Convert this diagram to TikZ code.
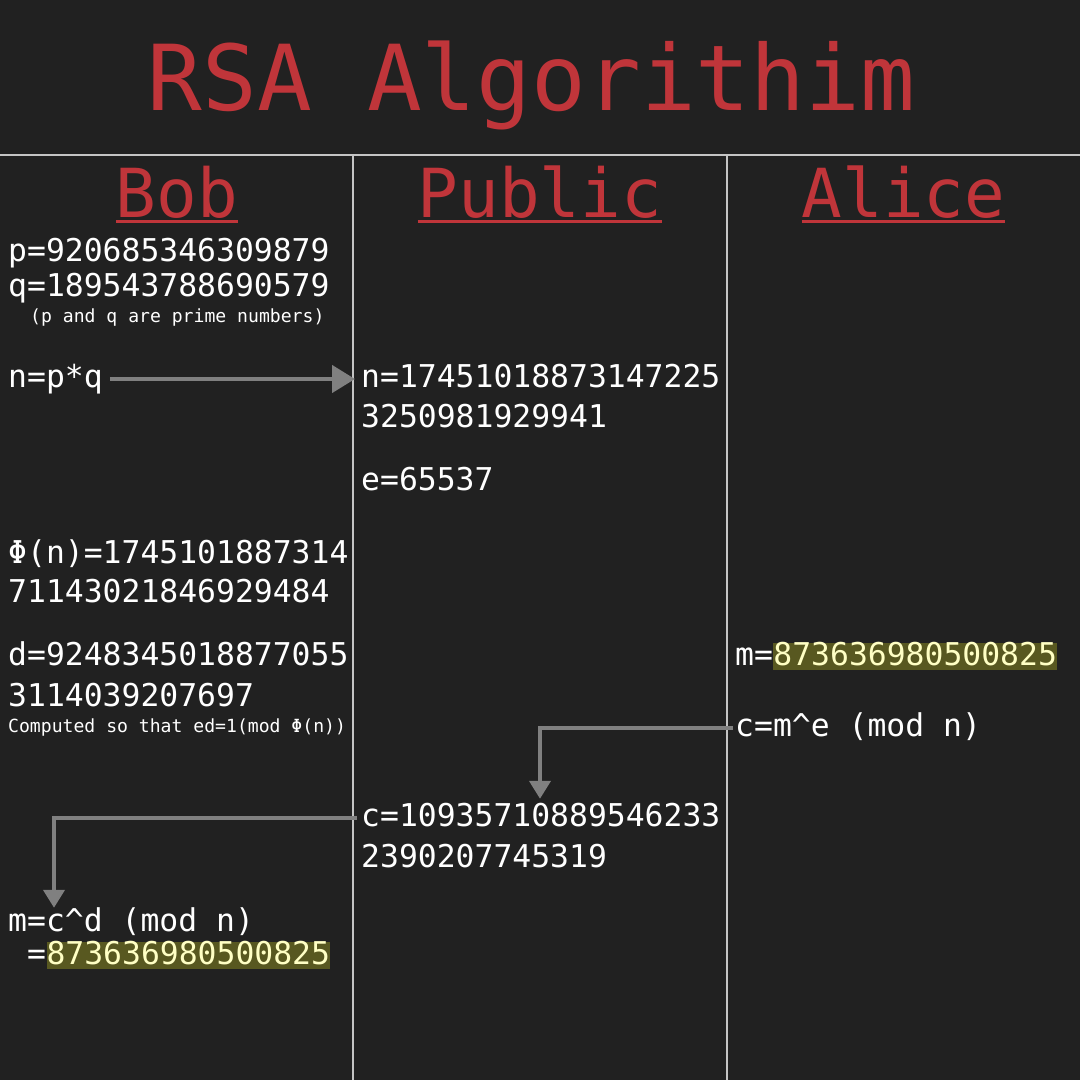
\documentclass[tikz,border=0pt]{standalone}
\usepackage{fontspec}
\newfontfamily\mono{DejaVu Sans Mono}
\usetikzlibrary{arrows.meta}
\definecolor{bg}{HTML}{212121}
\definecolor{rsared}{HTML}{C0353A}
\definecolor{rule}{HTML}{C4C4C4}
\definecolor{arrgray}{HTML}{808080}
\definecolor{hl}{HTML}{585820}
\definecolor{hltext}{HTML}{FFFFC4}
\tikzset{
  txt/.style={anchor=base west, inner sep=0pt, text=white, font=\mono\fontsize{31.4}{36}\selectfont, text height=23pt, text depth=7pt},
  small/.style={anchor=base west, inner sep=0pt, text=white, font=\mono\fontsize{18.1}{21}\selectfont},
  hilite/.style={txt, fill=hl, text=hltext, text height=22pt, text depth=5pt},
  head/.style={anchor=base, inner sep=0pt, text=rsared, font=\mono\fontsize{67.6}{75}\selectfont},
  uline/.style={draw=rsared, line width=3pt},
  sep/.style={draw=rule, line width=2pt},
  arrbig/.style={draw=arrgray, line width=4.5pt, -{Triangle[length=23pt,width=27pt]}},
  arr/.style={draw=arrgray, line width=4pt, -{Triangle[length=18pt,width=21pt]}}
}
\begin{document}
\begin{tikzpicture}[x=1pt,y=-1pt]
\path[fill=bg, use as bounding box] (0,0) rectangle (1080,1080);
% title
\node[anchor=base, inner sep=0pt, text=rsared, font=\mono\fontsize{91}{100}\selectfont] (title) at (531.5,110) {RSA Algorithim};
% separators
\draw[sep] (0,155) -- (1080,155);
\draw[sep] (353,155) -- (353,1080);
\draw[sep] (727,155) -- (727,1080);
% headings
\node[head] (hbob) at (177,217) {Bob};
\node[head] (hpub) at (540,217) {Public};
\node[head] (hali) at (903.5,217) {Alice};
\foreach \h in {hbob,hpub,hali}{
  \draw[uline] ([yshift=-4.5pt]\h.base west) -- ([yshift=-4.5pt]\h.base east);
}
% Bob column
\node[txt] (bp) at (8,261) {p=920685346309879};
\node[txt] (bq) at (8,296) {q=189543788690579};
\node[small] (bprime) at (30,322) {(p and q are prime numbers)};
\node[txt] (npq) at (8,387) {n=p*q};
\node[txt] (phi1) at (8,563) {Φ(n)=1745101887314};
\node[txt] (phi2) at (8,602) {71143021846929484};
\node[txt] (d1) at (8,665) {d=9248345018877055};
\node[txt] (d2) at (8,706) {3114039207697};
\node[small] (dnote) at (8,732) {Computed so that ed=1(mod Φ(n))};
\node[txt] (bm) at (8,931) {m=c\^{}d (mod n)};
\node[txt] (beq) at (27,964) {=};
\node[hilite, anchor=base west] (bmv) at (beq.base east) {873636980500825};
% Public column
\node[txt] (pn) at (361,387) {n=17451018873147225};
\node[txt] (pn2) at (361,427) {3250981929941};
\node[txt] (pe) at (361,490) {e=65537};
\node[txt] (pc) at (361,826) {c=10935710889546233};
\node[txt] (pc2) at (361,867) {2390207745319};
% Alice column
\node[txt] (am) at (735,665) {m=};
\node[hilite, anchor=base west] (amv) at (am.base east) {873636980500825};
\node[txt] (ac) at (735,736) {c=m\^{}e (mod n)};
% connectors
\draw[arrbig] ([xshift=7pt]npq.east) -- ([xshift=-6pt]pn.west);
\draw[arr] ([xshift=-2pt]ac.west) -| ([shift={(179pt,4pt)}]pc.north west);
\draw[arr] ([xshift=-4pt]pc.west) -| ([xshift=46pt]bm.north west);
\end{tikzpicture}
\end{document}
